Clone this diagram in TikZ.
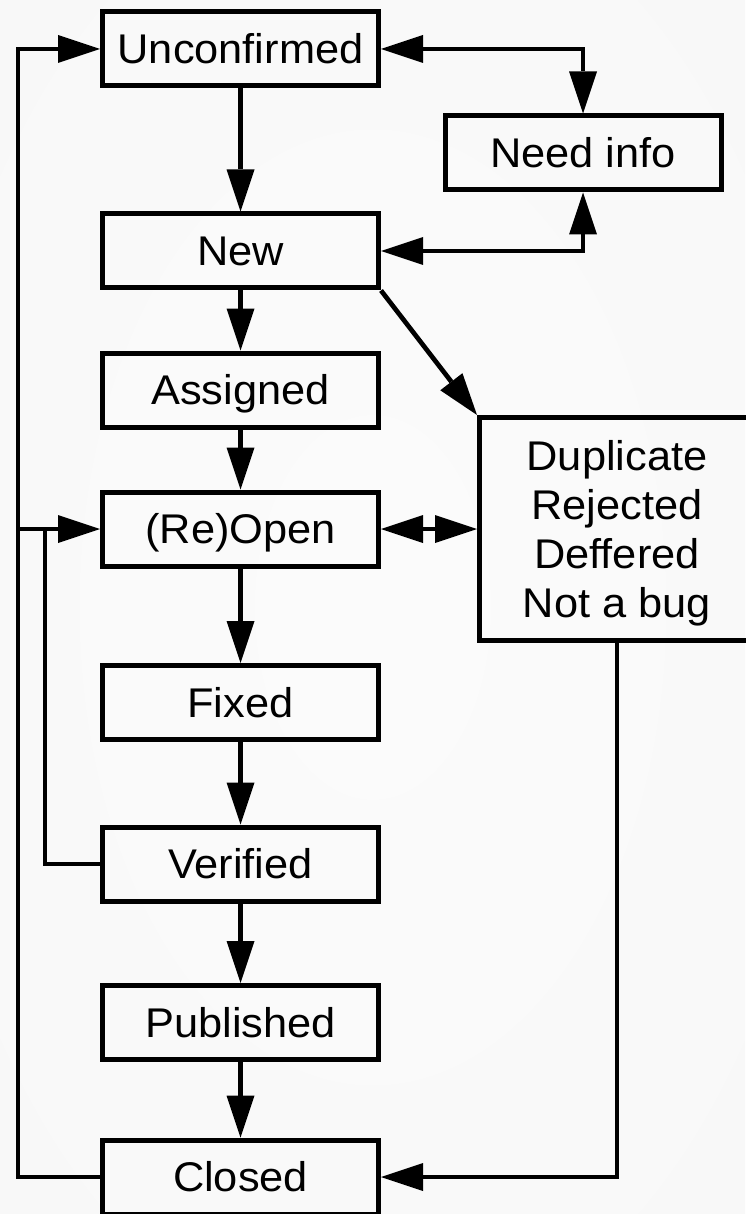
\documentclass[tikz,border=0pt]{standalone}
\usepackage{fontspec}
\setmainfont{Liberation Sans}[FakeStretch=1.045]
\usetikzlibrary{arrows.meta,positioning}

\pgfdeclareradialshading{bgshade}{\pgfpoint{0bp}{0bp}}{%
  color(0bp)=(gray!3); color(30bp)=(gray!5); color(71bp)=(gray!11)}

\tikzset{
  state/.style={draw,line width=5pt,minimum width=276pt,minimum height=74pt,
    inner sep=0pt,text height=29.7pt,text depth=0pt,
    font=\fontsize{41.5}{48.8}\selectfont},
  group/.style={draw,line width=5pt,minimum width=275pt,minimum height=223pt,
    inner sep=0pt,align=center,text depth=0pt,
    font=\fontsize{41.5}{48.8}\selectfont},
  arr/.style={line width=4.7pt,-{Triangle[length=42pt,width=28pt,line width=0pt]}},
  arrr/.style={line width=4.7pt,{Triangle[length=42pt,width=28pt,line width=0pt]}-{Triangle[length=42pt,width=28pt,line width=0pt]}}
}

\begin{document}
\begin{tikzpicture}[x=1pt,y=-1pt]
  \useasboundingbox (0,0) rectangle (745,1214);
  % 背景
  \shade[shading=bgshade] (0,0) rectangle (745,1214);

  % 状态
  \node[state] (unconf) at (240.5,49) {Unconfirmed};
  \node[state] (info) at (583,153) {Need info};
  \node[state] (new) at (240.5,251) {New};
  \node[state] (assigned) at (240.5,390) {Assigned};
  \node[state] (reopen) at (240.5,529) {(Re)Open};
  \node[state] (fixed) at (240.5,702.5) {Fixed};
  \node[state] (verified) at (240.5,864) {Verified};
  \node[state] (published) at (240.5,1022.5) {Published};
  \node[state] (closed) at (240.5,1177) {Closed};
  \node[group] (dup) at (617,529) {Duplicate\\Rejected\\Deffered\\Not a bug};

  % 左侧回路
  \coordinate (rail) at (18,529);
  \coordinate (rail2) at (45,529);

  % 主流程
  \draw[arr] (unconf) -- (new);
  \draw[arr] (new) -- (assigned);
  \draw[arr] (assigned) -- (reopen);
  \draw[arr] (reopen) -- (fixed);
  \draw[arr] (fixed) -- (verified);
  \draw[arr] (verified) -- (published);
  \draw[arr] (published) -- (closed);

  % Need info
  \draw[arrr] (unconf.east) -| (info.north);
  \draw[arrr] (new.east) -| (info.south);

  % 拒绝分支
  \draw[arr] (new.south east) -- (dup.north west);
  \draw[arrr] (reopen.east) -- (dup.west);
  \draw[arr] (dup.south) |- (closed.east);

  % 重新打开
  \draw[arr] (closed.west) -| (rail) |- (unconf.west);
  \draw[arr] (rail) -- (reopen.west);
  \draw[line width=4.7pt] (verified.west) -| (rail2);
\end{tikzpicture}
\end{document}
